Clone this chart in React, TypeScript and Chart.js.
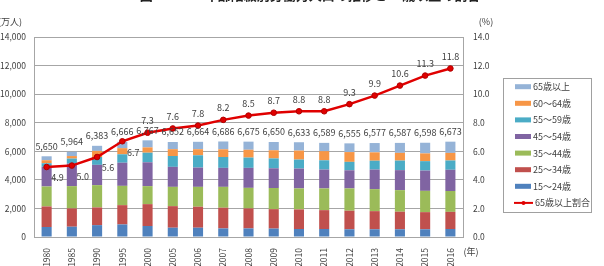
import React, { useEffect, useRef } from "react";
import { Chart, registerables } from "chart.js";
Chart.register(...registerables);

const years = ["1980","1985","1990","1995","2000","2005","2006","2007","2008","2009","2010","2011","2012","2013","2014","2015","2016"];
const age15to24 = [700,720,830,880,770,650,650,600,600,590,560,560,540,540,540,540,560];
const age25to34 = [1440,1280,1240,1350,1530,1510,1470,1450,1400,1360,1370,1320,1300,1270,1230,1200,1200];
const age35to44 = [1395,1560,1560,1350,1260,1350,1390,1460,1440,1480,1470,1520,1560,1540,1510,1490,1460];
const age45to54 = [1380,1580,1420,1620,1670,1400,1350,1330,1400,1380,1390,1320,1270,1370,1400,1420,1486];
const age55to59 = [250,350,550,590,670,760,860,760,720,690,630,650,590,620,670,660,650];
const age60to64 = [208,176,426,429,373,477,424,538,548,571,629,639,685,586,539,542,530];
const age65plus = [277,298,357,447,494,505,520,548,567,579,584,580,610,651,698,746,787];
const totals = [5650,5964,6383,6666,6767,6652,6664,6686,6675,6650,6633,6589,6555,6577,6587,6598,6673];
const ratio65 = [4.9,5.0,5.6,6.7,7.3,7.6,7.8,8.2,8.5,8.7,8.8,8.8,9.3,9.9,10.6,11.3,11.8];

const leftTicks = [0,2000,4000,6000,8000,10000,12000,14000];
const rightTicks = [0,2,4,6,8,10,12,14];

const seriesNames = ["15～24歳","25～34歳","35～44歳","45～54歳","55～59歳","60～64歳","65歳以上"];
const seriesColors = ["#4F81BD","#C0504D","#9BBB59","#8064A2","#4BACC6","#F79646","#95B3D7"];
const lineName = "65歳以上割合";
const lineColor = "#E00000";
const titleText = "図１－１　年齢階級別労働力人口の推移と65歳以上の割合";

const FONT = "'Noto Sans CJK JP', 'Noto Sans', sans-serif";
const TXT = "#404040";

export default function App() {
  const ref = useRef<HTMLCanvasElement | null>(null);
  useEffect(() => {
    if (!ref.current) return;
    const seriesData = [age15to24, age25to34, age35to44, age45to54, age55to59, age60to64, age65plus];
    const decor = {
      id: "decor",
      afterDatasetsDraw(chart: any) {
        const ctx = chart.ctx;
        ctx.save();
        // total labels
        ctx.font = `9px ${FONT}`;
        ctx.fillStyle = TXT;
        ctx.textAlign = "center";
        ctx.textBaseline = "middle";
        const topMeta = chart.getDatasetMeta(6);
        topMeta.data.forEach((el: any, i: number) => {
          ctx.fillText(totals[i].toLocaleString("en-US"), el.x, el.y - 10);
        });
        // ratio labels
        const lm = chart.getDatasetMeta(7);
        lm.data.forEach((el: any, i: number) => {
          const t = ratio65[i].toFixed(1);
          if (i < 4) ctx.fillText(t, el.x + 11, el.y + 11);
          else ctx.fillText(t, el.x, el.y - 12);
        });
        // title (clipped at top)
        ctx.font = `bold 13px ${FONT}`;
        ctx.fillStyle = "#222";
        ctx.fillText(titleText, 310, -5);
        // axis units
        ctx.font = `9px ${FONT}`;
        ctx.fillStyle = TXT;
        ctx.textAlign = "right";
        ctx.fillText("(万人)", 22, 22);
        ctx.textAlign = "center";
        ctx.fillText("(%)", 486, 22);
        ctx.fillText("(年)", 471, 252);
        // legend
        const lx = 503.5, ly = 78.5, lw = 88, lh = 134;
        ctx.strokeStyle = "#A0A0A0";
        ctx.lineWidth = 1;
        ctx.strokeRect(lx, ly, lw, lh);
        const items = [6,5,4,3,2,1,0];
        ctx.textAlign = "left";
        items.forEach((si, k) => {
          const y = 86.7 + k * 16.6;
          ctx.fillStyle = seriesColors[si];
          ctx.fillRect(515, y - 2.5, 16, 5);
          ctx.fillStyle = TXT;
          ctx.fillText(seriesNames[si], 533, y);
        });
        const y = 86.7 + 7 * 16.6;
        ctx.strokeStyle = lineColor;
        ctx.lineWidth = 2;
        ctx.beginPath();
        ctx.moveTo(514, y);
        ctx.lineTo(533, y);
        ctx.stroke();
        ctx.fillStyle = lineColor;
        ctx.beginPath();
        ctx.arc(523.5, y, 2, 0, Math.PI * 2);
        ctx.fill();
        ctx.fillStyle = TXT;
        ctx.fillText(lineName, 535, y);
        ctx.restore();
      },
    };
    const chart = new Chart(ref.current, {
      type: "bar",
      data: {
        labels: years,
        datasets: [
          ...seriesData.map((d, i) => ({
            type: "bar" as const,
            label: seriesNames[i],
            data: d,
            backgroundColor: seriesColors[i],
            yAxisID: "y",
            stack: "s",
            order: 1,
            barPercentage: 0.4,
            categoryPercentage: 1,
          })),
          {
            type: "line" as const,
            label: lineName,
            data: ratio65,
            yAxisID: "y1",
            borderColor: lineColor,
            backgroundColor: lineColor,
            borderWidth: 2.5,
            pointRadius: 2.8,
            pointBackgroundColor: lineColor,
            pointBorderColor: "#B00000",
            pointBorderWidth: 1,
            tension: 0,
            order: 0,
          },
        ] as any,
      },
      options: {
        responsive: false,
        animation: false,
        layout: { padding: { top: 37, left: 0, right: 0, bottom: 0 } },
        plugins: { legend: { display: false }, tooltip: { enabled: false } },
        scales: {
          x: {
            stacked: true,
            grid: { display: false },
            border: { display: true, color: "#A6A6A6" },
            ticks: {
              maxRotation: 90,
              minRotation: 90,
              autoSkip: false,
              padding: 3,
              color: TXT,
              font: { size: 8.5, family: FONT },
            },
            afterFit: (s: any) => { s.height = 29; },
          },
          y: {
            stacked: true,
            min: 0,
            max: 14000,
            afterBuildTicks: (s: any) => { s.ticks = leftTicks.map((v) => ({ value: v })); },
            ticks: {
              padding: 8,
              color: TXT,
              font: { size: 8.5, family: FONT },
              callback: (v: any) => Number(v).toLocaleString("en-US"),
            },
            grid: { color: "#A6A6A6", drawTicks: false, lineWidth: 1 },
            border: { display: true, color: "#A6A6A6" },
            afterFit: (s: any) => { s.width = 34; },
          },
          y1: {
            position: "right",
            min: 0,
            max: 14,
            afterBuildTicks: (s: any) => { s.ticks = rightTicks.map((v) => ({ value: v })); },
            ticks: {
              padding: 10,
              color: TXT,
              font: { size: 8.5, family: FONT },
              callback: (v: any) => Number(v).toFixed(1),
            },
            grid: { display: false, drawTicks: false },
            border: { display: true, color: "#A6A6A6" },
            afterFit: (s: any) => { s.width = 141; },
          },
        },
      } as any,
      plugins: [decor],
    });
    return () => chart.destroy();
  }, []);
  return (
    <div style={{ position: "fixed", left: 0, top: 0, width: 604, height: 266, background: "#fff" }}>
      <canvas ref={ref} width={604} height={266} style={{ display: "block" }} />
    </div>
  );
}
